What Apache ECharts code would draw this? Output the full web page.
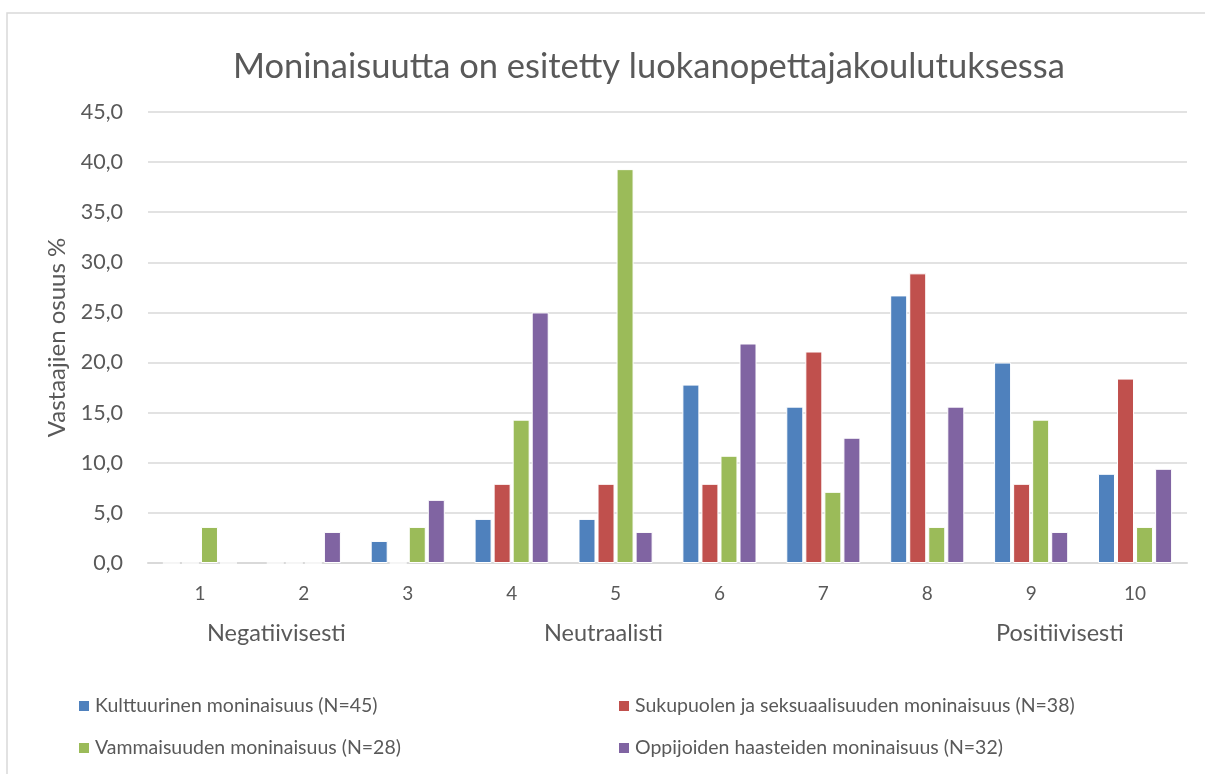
<!DOCTYPE html>
<html>
<head>
<meta charset="utf-8">
<script src="https://cdn.jsdelivr.net/npm/echarts@6/dist/echarts.min.js"></script>
<style>
  html, body { margin: 0; padding: 0; background: #fff; }
  #mychart { width: 1205px; height: 774px; }
</style>
</head>
<body>
<div id="mychart"></div>
<script>
// luokat 1-10
const categories = ["1", "2", "3", "4", "5", "6", "7", "8", "9", "10"];
const yTicks = [0, 5, 10, 15, 20, 25, 30, 35, 40, 45];

// sarjat (% vastaajista)
const kulttuurinen = [0, 0, 2.2, 4.4, 4.4, 17.8, 15.6, 26.7, 20.0, 8.9];
const sukupuolen = [0, 0, 0, 7.9, 7.9, 7.9, 21.1, 28.9, 7.9, 18.4];
const vammaisuuden = [3.6, 0, 3.6, 14.3, 39.3, 10.7, 7.1, 3.6, 14.3, 3.6];
const oppijoiden = [0, 3.1, 6.3, 25.0, 3.1, 21.9, 12.5, 15.6, 3.1, 9.4];

const seriesNames = [
  "Kulttuurinen moninaisuus (N=45)",
  "Sukupuolen ja seksuaalisuuden moninaisuus (N=38)",
  "Vammaisuuden moninaisuus (N=28)",
  "Oppijoiden haasteiden moninaisuus (N=32)"
];
const colors = ["#4F81BD", "#C0504D", "#9BBB59", "#8064A2"];

const font = "Lato, 'Noto Sans', sans-serif";
const textColor = "#595959";

const chart = echarts.init(document.getElementById("mychart"));

function bar(name, data, color) {
  return {
    name: name,
    type: "bar",
    data: data,
    barWidth: 17,
    barGap: "12%",
    itemStyle: { color: color, borderColor: "#fff", borderWidth: 1 }
  };
}

function legendCol(names, left) {
  return {
    data: names,
    orient: "vertical",
    left: left,
    top: 696,
    padding: 0,
    itemWidth: 12,
    itemHeight: 12,
    itemGap: 22,
    icon: "rect",
    textStyle: { color: textColor, fontSize: 19.5, fontFamily: font, padding: [0, 0, 0, 0] }
  };
}

const option = {
  backgroundColor: "#fff",
  color: colors,
  animation: false,
  textStyle: { fontFamily: font },
  title: {
    text: "Moninaisuutta on esitetty luokanopettajakoulutuksessa",
    left: 228,
    top: 44,
    textStyle: { fontFamily: font, fontSize: 34.5, fontWeight: "normal", color: textColor }
  },
  grid: { left: 148, right: 18, top: 112, bottom: 211, containLabel: false },
  xAxis: {
    type: "category",
    data: categories,
    axisLine: { lineStyle: { color: "#d9d9d9", width: 2 } },
    axisTick: { show: false },
    axisLabel: { color: textColor, fontSize: 19, margin: 21, fontFamily: font }
  },
  yAxis: {
    type: "value",
    min: yTicks[0],
    max: yTicks[yTicks.length - 1],
    interval: 5,
    name: "Vastaajien osuus %",
    nameLocation: "middle",
    nameRotate: 90,
    nameGap: 79,
    nameTextStyle: { color: textColor, fontSize: 24, fontFamily: font },
    axisLine: { show: false },
    axisTick: { show: false },
    splitLine: { lineStyle: { color: "#d9d9d9", width: 1.5 } },
    axisLabel: {
      color: textColor,
      fontSize: 21.5,
      margin: 25,
      fontFamily: font,
      formatter: v => v.toFixed(1).replace(".", ",")
    }
  },
  legend: [
    legendCol([seriesNames[0], seriesNames[2]], 77),
    legendCol([seriesNames[1], seriesNames[3]], 617)
  ],
  graphic: [
    {
      type: "rect",
      silent: true,
      shape: { x: 7, y: 13, width: 1220, height: 800 },
      style: { fill: "none", stroke: "#d9d9d9", lineWidth: 1.5 }
    },
    {
      type: "text", left: 207, top: 621,
      style: { text: "Negatiivisesti", fill: textColor, fontSize: 23.5, fontFamily: font }
    },
    {
      type: "text", left: 544, top: 621,
      style: { text: "Neutraalisti", fill: textColor, fontSize: 23.5, fontFamily: font }
    },
    {
      type: "text", left: 996, top: 621,
      style: { text: "Positiivisesti", fill: textColor, fontSize: 23.5, fontFamily: font }
    }
  ],
  series: [
    bar(seriesNames[0], kulttuurinen, colors[0]),
    bar(seriesNames[1], sukupuolen, colors[1]),
    bar(seriesNames[2], vammaisuuden, colors[2]),
    bar(seriesNames[3], oppijoiden, colors[3])
  ]
};

chart.setOption(option);
</script>
</body>
</html>
